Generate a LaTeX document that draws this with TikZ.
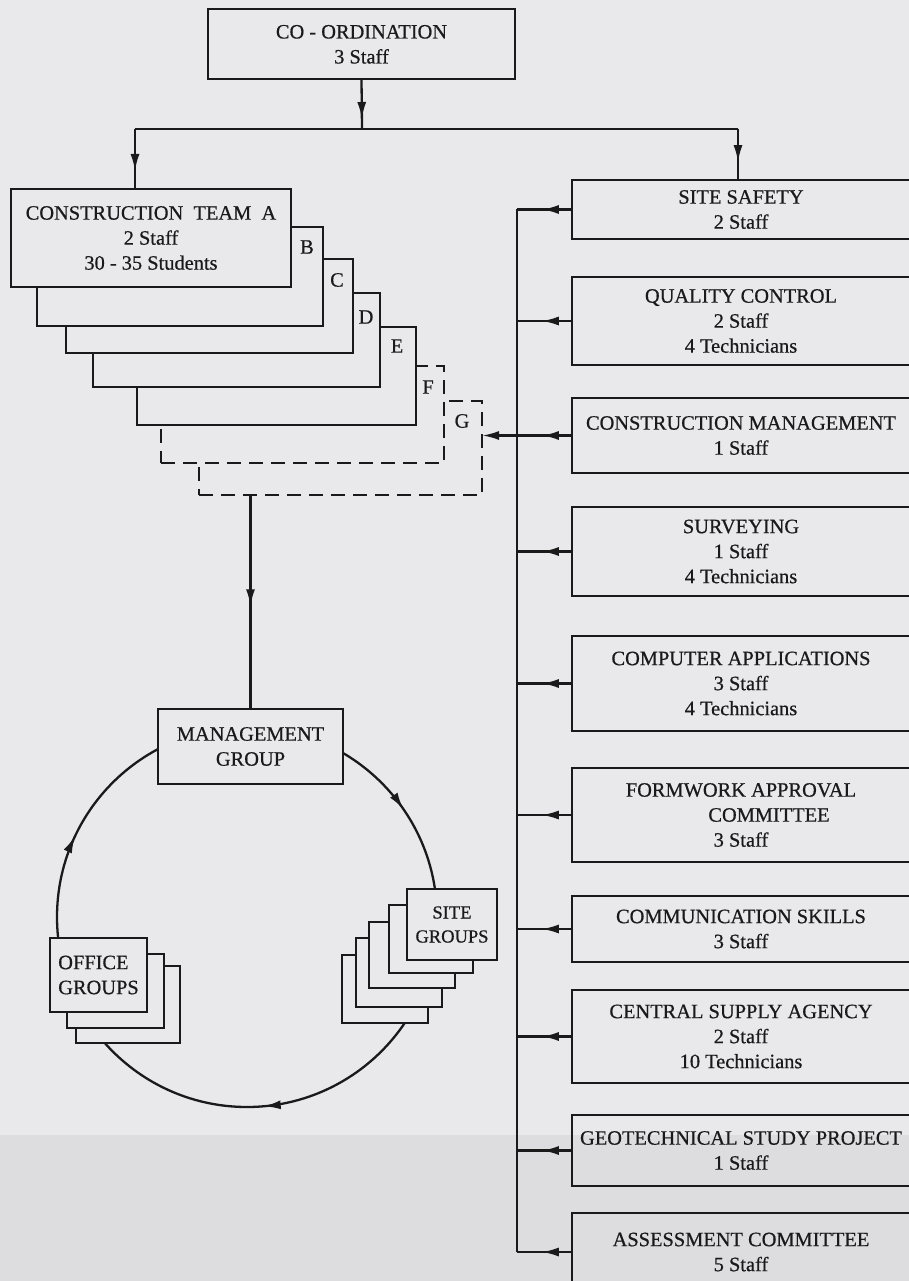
\documentclass[tikz,border=0pt]{standalone}
\usepackage{fontspec}
\setmainfont{Liberation Serif}[FakeBold=0.6]
\newfontfamily\heavyserif{Liberation Serif}[FakeBold=0.6]
\usetikzlibrary{arrows.meta,decorations.markings}
\definecolor{paper}{HTML}{E9E9EC}
\definecolor{paperdark}{HTML}{DDDDE0}
\definecolor{ink}{HTML}{1A1A1A}
\tikzset{
  ln/.style={draw=ink, line width=2.3pt},
  box/.style={ln, rectangle, inner sep=0pt, outer sep=0pt, align=center, text=ink, font=\heavyserif\fontsize{20.4}{25}\selectfont},
  fbox/.style={box, fill=paper},
  dbox/.style={fbox, dash pattern=on 14pt off 8pt},
  lbl/.style={text=ink, font=\heavyserif\fontsize{20.4}{25}\selectfont, inner sep=0pt},
  tipL/.style={-{Latex[length=17pt,width=9pt]}},
  midarrow/.style={postaction={decorate}, decoration={markings, mark=at position #1 with {\arrow{Latex[length=17pt,width=9pt]}}}},
  midarrow/.default=0.55,
  rbox/.style={box, minimum width=338pt},
}
\begin{document}
\begin{tikzpicture}[x=1pt,y=-1pt]
\useasboundingbox (0,0) rectangle (909,1281);
\fill[paper] (0,0) rectangle (909,1281);
\fill[paperdark] (0,1135) rectangle (909,1281);

% co-ordination
\node[box, minimum width=307pt, minimum height=70pt, text depth=0pt] (coord) at (361.5,44) {\rule{0pt}{14pt}CO - ORDINATION\\3 Staff};
\coordinate (hl) at (362,129);
\coordinate (hlL) at (135,129);
\coordinate (hlR) at (738,129);
\coordinate (bus) at (517,0);

% construction team stack (back to front)
\node[dbox, minimum width=283pt, minimum height=94pt] (tG) at (340.5,448) {};
\node[dbox, minimum width=283pt, minimum height=97pt] (tF) at (302.5,414.5) {};
\node[fbox, minimum width=279pt, minimum height=98pt] (tE) at (276.5,376) {};
\node[fbox, minimum width=287pt, minimum height=94pt] (tD) at (236.5,340) {};
\node[fbox, minimum width=287pt, minimum height=94pt] (tC) at (209.5,306) {};
\node[fbox, minimum width=286pt, minimum height=99pt] (tB) at (180,276.5) {};
\node[fbox, minimum width=280pt, minimum height=98pt] (tA) at (151,238) {CONSTRUCTION~ TEAM~ A\\2 Staff\\30 - 35 Students};
\node[lbl] (lB) at (307,247) {B};
\node[lbl] (lC) at (337,280) {C};
\node[lbl] (lD) at (366,317) {D};
\node[lbl] (lE) at (397,346) {E};
\node[lbl] (lF) at (428,387) {F};
\node[lbl] (lG) at (462,421) {G};

% right-hand boxes
\node[rbox, minimum height=59pt] (ss) at (741,209.5) {SITE SAFETY\\2 Staff};
\node[rbox, minimum height=88pt] (qc) at (741,321) {QUALITY CONTROL\\2 Staff\\4 Technicians};
\node[rbox, minimum height=75pt] (cm) at (741,435.5) {CONSTRUCTION MANAGEMENT\\1 Staff};
\node[rbox, minimum height=89pt] (sv) at (741,551.5) {SURVEYING\\1 Staff\\4 Technicians};
\node[rbox, minimum height=95pt] (ca) at (741,683.5) {COMPUTER APPLICATIONS\\3 Staff\\4 Technicians};
\node[rbox, minimum height=94pt] (fa) at (741,815) {FORMWORK APPROVAL\\\hspace*{56pt}COMMITTEE\\3 Staff};
\node[rbox, minimum height=66pt] (cs) at (741,929) {COMMUNICATION SKILLS\\3 Staff};
\node[rbox, minimum height=93pt] (csa) at (741,1036.5) {CENTRAL SUPPLY AGENCY\\2 Staff\\10 Technicians};
\node[rbox, minimum height=71pt] (geo) at (741,1150.5) {GEOTECHNICAL STUDY PROJECT\\1 Staff};
\node[rbox, minimum height=78pt] (ac) at (741,1252) {ASSESSMENT COMMITTEE\\5 Staff};

% top connectors
\draw[ln, midarrow=0.8] (coord.south) -- (hl);
\draw[ln] (hlL) -- (hlR);
\draw[ln, midarrow=0.7] (hlL) -- (hlL |- tA.north);
\draw[ln, midarrow=0.65] (hlR) -- (hlR |- ss.north);

% bus
\draw[ln] (ss.west -| bus) -- (ac.west -| bus);
\foreach \b in {ss,qc,cm,sv,ca,fa,cs,csa,geo,ac}
  \draw[ln, midarrow=0.55] (\b.west) -- (\b.west -| bus);
\draw[ln, tipL] (cm.west -| bus) -- (cm.west -| tG.east);

% cycle
\draw[ln, postaction={decorate}, decoration={markings,
   mark=at position 0.154 with {\arrow{Latex[length=17pt,width=9pt]}},
   mark=at position 0.486 with {\arrow{Latex[length=17pt,width=9pt]}},
   mark=at position 0.82 with {\arrow{Latex[length=17pt,width=9pt]}}}]
   (247,727) arc[start angle=-90, end angle=270, radius=190];

% site groups stack
\node[fbox, minimum width=86pt, minimum height=68pt] (s5) at (385,989) {};
\node[fbox, minimum width=86pt, minimum height=69pt] (s4) at (399,972.5) {};
\node[fbox, minimum width=86pt, minimum height=66pt] (s3) at (412,955) {};
\node[fbox, minimum width=84pt, minimum height=68pt] (s2) at (431,939) {};
\node[fbox, minimum width=90pt, minimum height=71pt, font=\heavyserif\fontsize{18.5}{24}\selectfont] (s1) at (452,924.5) {SITE\\GROUPS};

% office groups stack
\node[fbox, minimum width=104pt, minimum height=77pt] (o3) at (128,1004.5) {};
\node[fbox, minimum width=97pt, minimum height=74pt] (o2) at (115.5,991) {};
\node[fbox, minimum width=97pt, minimum height=74pt, align=left] (o1) at (98.5,975) {OFFICE\\GROUPS};

% management group
\node[fbox, minimum width=185pt, minimum height=75pt] (mg) at (250.5,746.5) {MANAGEMENT\\GROUP};
\draw[ln, midarrow=0.52] (mg.north |- tG.south) -- (mg.north);
\end{tikzpicture}
\end{document}
